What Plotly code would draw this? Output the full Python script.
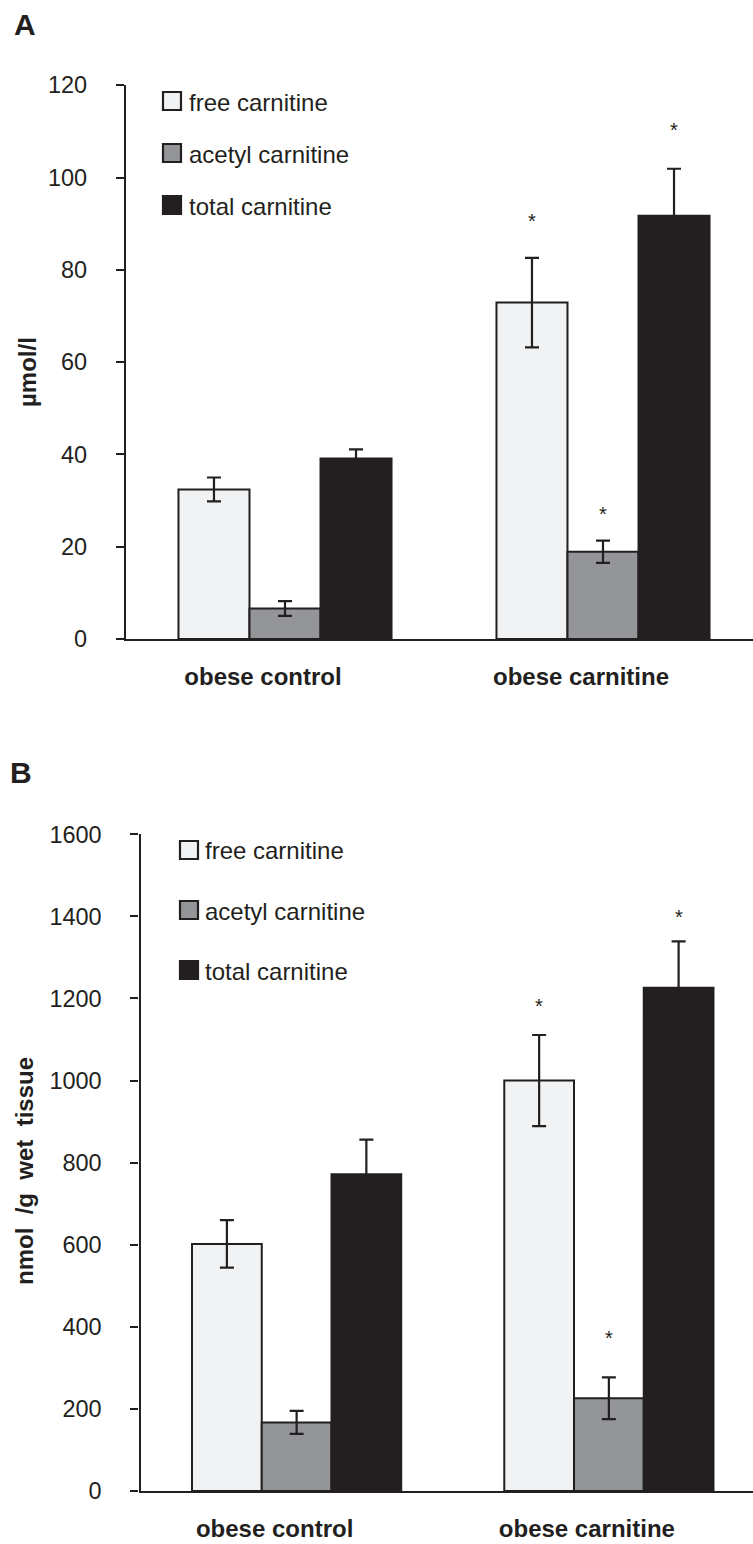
import plotly.graph_objects as go

W, H = 753, 1544

groups = ["obese control", "obese carnitine"]
series = ["free carnitine", "acetyl carnitine", "total carnitine"]
colors = ["#f1f2f3", "#939598", "#231f20"]
INK = "#231f20"

# Panel A (µmol/l)
a_free = [32.4, 72.9]
a_free_err = [2.6, 9.7]
a_acetyl = [6.6, 18.9]
a_acetyl_err = [1.6, 2.4]
a_total = [39.1, 91.7]
a_total_err = [2.0, 10.2]

# Panel B (nmol/g wet tissue)
b_free = [602, 1000]
b_free_err = [58, 111]
b_acetyl = [167, 226]
b_acetyl_err = [28, 51]
b_total = [772, 1226]
b_total_err = [84, 113]

a_ticks = [0, 20, 40, 60, 80, 100, 120]
b_ticks = [0, 200, 400, 600, 800, 1000, 1200, 1400, 1600]

# significance marks (group "obese carnitine") and their pixel lift above the error bar
a_star_shift = [41, 31, 43]
b_star_shift = [33, 43, 28]

FONT = "Liberation Sans, Arial, sans-serif"


def px(x):
    return x / W


def py(y):
    return 1 - y / H


fig = go.Figure()

panels = [
    ("x", "y", [a_free, a_acetyl, a_total], [a_free_err, a_acetyl_err, a_total_err], a_star_shift, 71),
    ("x2", "y2", [b_free, b_acetyl, b_total], [b_free_err, b_acetyl_err, b_total_err], b_star_shift, 70),
]

annotations = []
shapes = []

for xa, ya, vals, errs, shifts, bw in panels:
    for name, col, v, e in zip(series, colors, vals, errs):
        fig.add_trace(go.Bar(
            x=groups, y=v, name=name, xaxis=xa, yaxis=ya,
            marker=dict(color=col, line=dict(color=INK, width=2)),
            error_y=dict(type="data", array=e, visible=True, color=INK,
                         thickness=2.2, width=7),
            showlegend=False,
        ))
    # asterisks
    for k in range(3):
        annotations.append(dict(
            xref=xa, yref=ya, x=1, y=vals[k][1] + errs[k][1],
            xshift=(k - 1) * bw, yshift=shifts[k] - 4,
            text="*", showarrow=False, yanchor="middle",
            font=dict(family=FONT, size=20, color=INK),
        ))

# legends (swatches + text)
for sq_x, text_x, rows in [(163, 187, [101, 153, 205]), (180, 203, [850, 910, 970])]:
    for name, col, cy in zip(series, colors, rows):
        shapes.append(dict(
            type="rect", xref="paper", yref="paper",
            x0=px(sq_x), x1=px(sq_x + 18), y0=py(cy + 9), y1=py(cy - 9),
            fillcolor=col, line=dict(color=INK, width=2.2),
        ))
        annotations.append(dict(
            xref="paper", yref="paper", x=px(text_x), y=py(cy + 1),
            xanchor="left", yanchor="middle", text=name, showarrow=False,
            font=dict(family=FONT, size=24, color=INK),
        ))

# panel letters
for letter, cx, cy in [("A", 25, 24), ("B", 21, 772)]:
    annotations.append(dict(
        xref="paper", yref="paper", x=px(cx), y=py(cy),
        xanchor="center", yanchor="middle", text="<b>%s</b>" % letter,
        showarrow=False, font=dict(family=FONT, size=30, color=INK),
    ))

# y axis titles
for title, cx, cy in [("µmol/l", 28, 372),
                      ("nmol\u00a0 /g\u00a0 wet\u00a0 tissue", 24, 1171)]:
    annotations.append(dict(
        xref="paper", yref="paper", x=px(cx), y=py(cy),
        xanchor="center", yanchor="middle", text="<b>%s</b>" % title,
        textangle=-90, showarrow=False,
        font=dict(family=FONT, size=24, color=INK),
    ))

common_y = dict(
    showline=True, linecolor=INK, linewidth=2.2, ticks="outside", ticklen=8,
    tickwidth=2.2, tickcolor=INK, showgrid=False, zeroline=False, automargin=False,
    tickfont=dict(family=FONT, size=23.5, color=INK), ticklabelstandoff=24,
)
common_x = dict(
    type="category", showline=True, linecolor=INK, linewidth=2.2, ticks="",
    showgrid=False, zeroline=False, automargin=False,
    tickfont=dict(family=FONT, size=24, color=INK),
    ticklabelshift=-22, ticklabelstandoff=15,
)

fig.update_layout(
    width=W, height=H, margin=dict(l=0, r=0, t=0, b=0, autoexpand=False),
    paper_bgcolor="white", plot_bgcolor="white",
    barmode="group", bargap=0.33, bargroupgap=0,
    xaxis=dict(common_x, domain=[px(126), 1], range=[-0.5, 1.5 - 9 / 318],
               anchor="y", tickvals=groups, ticktext=["<b>%s</b>" % g for g in groups]),
    yaxis=dict(common_y, domain=[py(639), py(85.2)], range=[0, 120],
               tickvals=a_ticks, anchor="x"),
    xaxis2=dict(common_x, domain=[px(140.5), 1], range=[-0.5, 1.5 - 12 / 312.3],
                anchor="y2", tickvals=groups, ticktext=["<b>%s</b>" % g for g in groups]),
    yaxis2=dict(common_y, domain=[py(1491), py(834.3)], range=[0, 1600],
                tickvals=b_ticks, anchor="x2"),
    annotations=annotations, shapes=shapes,
)

fig.write_html("out.html")
